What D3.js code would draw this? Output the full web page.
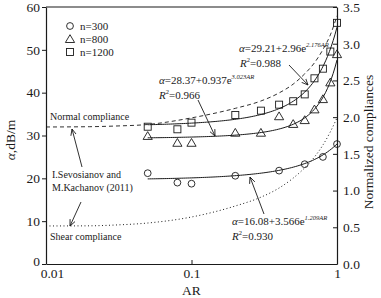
<!DOCTYPE html>
<html><head><meta charset="utf-8">
<script src="https://cdn.jsdelivr.net/npm/d3@7"></script>
<style>body{margin:0;background:#fff}svg{display:block}</style>
</head><body><svg id="c" width="381" height="298"></svg>
<script>
// ---- data ----
const arAll = [0.05,0.08,0.1,0.2,0.3,0.4,0.5,0.6,0.7,0.8,0.9,1.0];
const ar300 = [0.05,0.08,0.1,0.2,0.4,0.6,0.8,1.0];
const n300 = [21.2,19.0,18.75,20.6,21.8,23.3,25.0,28.0];
const n800 = [29.9,28.3,28.3,30.65,30.65,34.5,32.7,33.6,36.1,38.5,42.4,49.0];
const n1200 = [32.05,31.45,33.0,34.8,35.8,37.2,38.0,39.6,43.35,45.6,49.6,56.3];
const complianceAR = [0.01,0.02,0.03,0.05,0.1,0.2,0.3,0.4,0.5,0.6,0.7,0.8,0.9,1.0];
const normalComp = [1.866,1.87,1.879,1.90,1.99,2.12,2.22,2.33,2.45,2.59,2.74,2.92,3.12,3.38];
const shearComp = [0.518,0.52,0.531,0.558,0.64,0.79,0.91,1.035,1.17,1.31,1.457,1.62,1.80,1.99];
// fit parameters a + b*exp(c*AR), as printed on the chart
const fit300 = [16.08,3.566,1.209];
const fit800 = [28.37,0.937,3.023];
const fit1200 = [29.21,2.96,2.176];
const xTicks = [0.01,0.1,1];
const xTickLabels = ["0.01","0.1","1"];
const yTicks = [0,10,20,30,40,50,60];
const yRTicks = [0,0.5,1,1.5,2,2.5,3,3.5];

const FF = '"Liberation Serif","Times New Roman",serif';
const svg = d3.select("#c").attr("font-family",FF);
const L=46,R=337,T=7,B=264;
const x = d3.scaleLog().domain([0.01,1]).range([L,R]);
const y = d3.scaleLinear().domain([0,60]).range([B,T]);
const yR = d3.scaleLinear().domain([0,3.5]).range([B,T]);
const ink="#1a1a1a";

svg.append("defs").append("marker").attr("id","arr").attr("viewBox","0 0 10 10")
  .attr("refX",9).attr("refY",5).attr("markerWidth",7).attr("markerHeight",7)
  .attr("orient","auto").attr("markerUnits","userSpaceOnUse")
  .append("path").attr("d","M0,1 L9,5 L0,9").attr("fill","none").attr("stroke",ink).attr("stroke-width",1.2);

const gx = svg.append("g").attr("transform",`translate(0,${B})`)
  .call(d3.axisBottom(x).tickValues(xTicks).tickFormat((d,i)=>xTickLabels[i]).tickSizeInner(-4).tickSizeOuter(0).tickPadding(4));
const gy = svg.append("g").attr("transform",`translate(${L},0)`)
  .call(d3.axisLeft(y).tickValues(yTicks).tickFormat(d3.format("d")).tickSizeInner(4).tickSizeOuter(0).tickPadding(2));
const gr = svg.append("g").attr("transform",`translate(${R},0)`)
  .call(d3.axisRight(yR).tickValues(yRTicks).tickFormat(d3.format(".1f")).tickSizeInner(-4).tickSizeOuter(0).tickPadding(6));
[gx,gy,gr].forEach(g=>{g.attr("font-family",FF);
  g.select(".domain").attr("stroke",ink).attr("stroke-width",1.2);
  g.selectAll(".tick line").attr("stroke",ink);
  g.selectAll("text").attr("font-size",13.5).attr("fill",ink);});
gx.selectAll(".tick text").filter(d=>d===0.01).attr("dx",6);
gy.selectAll(".tick text").filter(d=>d===0).attr("dy","0.1em");
svg.append("line").attr("x1",L).attr("x2",R).attr("y1",T).attr("y2",T).attr("stroke",ink).attr("stroke-width",1.2);

svg.append("text").attr("x",x(0.1)).attr("y",295).attr("text-anchor","middle").attr("font-size",13.5).attr("fill",ink).text("AR");
const yl = svg.append("text").attr("transform","translate(15,140) rotate(-90)").attr("text-anchor","middle").attr("font-size",13.5).attr("fill",ink);
yl.append("tspan").attr("font-style","italic").text("α");
yl.append("tspan").text(",dB/m");
svg.append("text").attr("transform","translate(373,142) rotate(-90)").attr("text-anchor","middle").attr("font-size",13.5).attr("fill",ink).text("Normalized compliances");

const cl = d3.line().x(d=>x(d[0])).y(d=>yR(d[1])).curve(d3.curveMonotoneX);
svg.append("path").attr("d",cl(complianceAR.map((a,i)=>[a,normalComp[i]])))
  .attr("fill","none").attr("stroke",ink).attr("stroke-width",0.9).attr("stroke-dasharray","4,3");
svg.append("path").attr("d",cl(complianceAR.map((a,i)=>[a,shearComp[i]])))
  .attr("fill","none").attr("stroke",ink).attr("stroke-width",1).attr("stroke-dasharray","1,2.5");

const fitAR = d3.range(0,101).map(i=>Math.pow(10, Math.log10(0.05)+i/100*(0-Math.log10(0.05))));
const fl = d3.line().x(d=>x(d[0])).y(d=>y(d[1]));
[fit300,fit800,fit1200].forEach(p=>{
  svg.append("path").attr("d",fl(fitAR.map(a=>[a,p[0]+p[1]*Math.exp(p[2]*a)])))
    .attr("fill","none").attr("stroke",ink).attr("stroke-width",1);
});

const mk = svg.append("g").attr("fill","none").attr("stroke",ink).attr("stroke-width",0.9);
const circ = (g,cx,cy)=>g.append("circle").attr("cx",cx).attr("cy",cy).attr("r",3.4);
const sq = (g,cx,cy)=>g.append("rect").attr("x",cx-3.5).attr("y",cy-3.5).attr("width",7).attr("height",7);
const tri = (g,cx,cy)=>g.append("path").attr("d",`M${cx},${cy-4.3}L${cx+4.6},${cy+3.5}L${cx-4.6},${cy+3.5}Z`);
ar300.forEach((a,i)=>circ(mk,x(a),y(n300[i])));
arAll.forEach((a,i)=>tri(mk,x(a),y(n800[i])));
arAll.forEach((a,i)=>sq(mk,x(a),y(n1200[i])));

const lg = svg.append("g");
const legendLabels = ["n=300","n=800","n=1200"];
const shapes=[circ,tri,sq];
legendLabels.forEach((t,i)=>{
  const cy=26+i*13;
  shapes[i](lg.append("g").attr("fill","none").attr("stroke",ink).attr("stroke-width",0.9),70,cy);
  lg.append("text").attr("x",80).attr("y",cy+4).attr("font-size",11).attr("fill",ink).text(t);
});

function eq(tx,ty,a,b,c){
  const t=svg.append("text").attr("x",tx).attr("y",ty).attr("font-size",11).attr("fill",ink);
  t.append("tspan").attr("font-style","italic").text("α");
  t.append("tspan").text(`=${a}+${b}e`);
  t.append("tspan").attr("font-size",6.5).attr("dy",-5).attr("font-style","italic").text(`${c}AR`);
}
function r2(tx,ty,v){
  const t=svg.append("text").attr("x",tx).attr("y",ty).attr("font-size",11).attr("fill",ink);
  t.append("tspan").attr("font-style","italic").text("R");
  t.append("tspan").attr("font-size",6.5).attr("dy",-5).text("2");
  t.append("tspan").attr("dy",5).text(`=${v}`);
}
function lab(tx,ty,s){svg.append("text").attr("x",tx).attr("y",ty).attr("font-size",10).attr("fill",ink).text(s);}
lab(50,120,"Normal compliance");
lab(52,178,"I.Sevosianov and");
lab(52,191,"M.Kachanov (2011)");
lab(50,240,"Shear compliance");
eq(159,84,fit800[0],fit800[1],fit800[2].toFixed(3));
r2(159,99,"0.966");
eq(239,52,fit1200[0],fit1200[1],fit1200[2].toFixed(3));
r2(240,67,"0.988");
eq(232,225,fit300[0],fit300[1],fit300[2].toFixed(3));
r2(232,240,"0.930");

const arrows=[[82,167,72,129],[81,202,70,226],[198,100,215,136],[289,65,308,85],[264,214,250,177]];
arrows.forEach(a=>svg.append("line").attr("x1",a[0]).attr("y1",a[1]).attr("x2",a[2]).attr("y2",a[3])
  .attr("stroke",ink).attr("stroke-width",0.9).attr("marker-end","url(#arr)"));
</script></body></html>
